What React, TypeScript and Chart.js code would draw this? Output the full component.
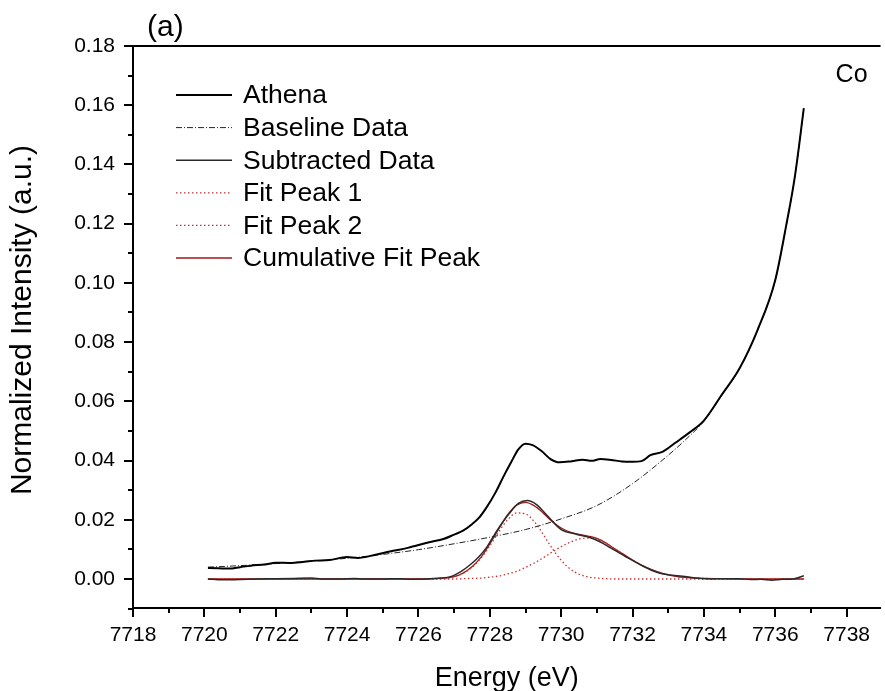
import { useEffect, useRef } from 'react';
import { Chart, registerables } from 'chart.js';

Chart.register(...registerables);

const FONT = '"Liberation Sans", Arial, Helvetica, sans-serif';

// ---------- data ----------
const athenaEnergy = [7720.1, 7720.4, 7720.7, 7721.0, 7721.3, 7721.7, 7722.0, 7722.4, 7722.8, 7723.1, 7723.5, 7724.0, 7724.3, 7724.8, 7725.2, 7725.7, 7726.3, 7726.7, 7727.0, 7727.25, 7727.5, 7727.7, 7727.9, 7728.15, 7728.4, 7728.6, 7728.8, 7729.0, 7729.2, 7729.45, 7729.7, 7729.95, 7730.3, 7730.6, 7730.85, 7731.1, 7731.4, 7731.7, 7732.0, 7732.25, 7732.5, 7732.85, 7733.2, 7733.6, 7734.0, 7734.5, 7735.0, 7735.5, 7736.0, 7736.3, 7736.55, 7736.8];
const athenaIntensity = [0.0037, 0.0036, 0.0035, 0.0040, 0.0045, 0.0049, 0.0055, 0.0054, 0.0058, 0.0062, 0.0064, 0.0074, 0.0071, 0.0082, 0.0093, 0.0105, 0.0124, 0.0135, 0.0150, 0.0163, 0.0185, 0.0207, 0.0240, 0.0290, 0.0350, 0.0395, 0.0438, 0.0457, 0.0452, 0.0432, 0.0405, 0.0394, 0.0398, 0.0403, 0.0399, 0.0405, 0.0402, 0.0397, 0.0396, 0.0398, 0.0418, 0.0430, 0.0460, 0.0495, 0.0535, 0.0622, 0.0712, 0.0840, 0.1010, 0.1190, 0.1360, 0.1590];

const baselineEnergy = [7720.1, 7721, 7722, 7723, 7724, 7725, 7726, 7727, 7728, 7729, 7730, 7731, 7732, 7733, 7733.5, 7734, 7734.5, 7735, 7735.5, 7736, 7736.3, 7736.55, 7736.8];
const baselineIntensity = [0.0040, 0.0045, 0.0052, 0.0060, 0.0070, 0.0083, 0.0099, 0.0119, 0.0141, 0.0167, 0.0203, 0.0248, 0.0322, 0.0418, 0.0472, 0.0533, 0.0620, 0.0711, 0.0839, 0.1009, 0.1189, 0.1359, 0.1589];

const subtractedEnergy = [7720.1, 7720.5, 7721.0, 7721.5, 7722.0, 7722.5, 7723.0, 7723.3, 7723.8, 7724.2, 7724.5, 7725.0, 7725.5, 7725.8, 7726.2, 7726.6, 7726.9, 7727.2, 7727.45, 7727.7, 7727.9, 7728.13, 7728.35, 7728.55, 7728.8, 7729.05, 7729.3, 7729.6, 7730.0, 7730.4, 7730.8, 7731.1, 7731.4, 7731.8, 7732.3, 7732.7, 7733.0, 7733.4, 7733.8, 7734.2, 7734.6, 7735.0, 7735.3, 7735.6, 7735.9, 7736.2, 7736.5, 7736.8];
const subtractedIntensity = [0.0000, -0.0003, -0.0002, 0.0000, 0.0001, 0.0002, 0.0003, 0.0000, 0.0000, 0.0002, 0.0000, 0.0000, 0.0001, -0.0001, 0.0000, 0.0003, 0.0008, 0.0026, 0.0048, 0.0076, 0.0105, 0.0150, 0.0190, 0.0222, 0.0255, 0.0265, 0.0252, 0.0215, 0.0167, 0.0152, 0.0140, 0.0125, 0.0104, 0.0076, 0.0043, 0.0022, 0.0014, 0.0009, 0.0003, 0.0000, 0.0001, 0.0001, -0.0002, -0.0001, -0.0004, -0.0001, 0.0000, 0.0011];

const fitEnergy = [7720.1, 7722, 7724, 7725.5, 7726, 7726.25, 7726.5, 7726.75, 7727, 7727.25, 7727.5, 7727.75, 7728, 7728.25, 7728.5, 7728.75, 7729, 7729.25, 7729.5, 7729.75, 7730, 7730.25, 7730.5, 7730.75, 7731, 7731.25, 7731.5, 7731.75, 7732, 7732.25, 7732.5, 7732.75, 7733, 7733.25, 7733.5, 7733.75, 7734, 7735, 7736.8];
const fitPeak1 = [0, 0, 0, 0, 0, 0, 0.0001, 0.0003, 0.0008, 0.0019, 0.0039, 0.0070, 0.0112, 0.0159, 0.0200, 0.0223, 0.0220, 0.0193, 0.0150, 0.0103, 0.0063, 0.0034, 0.0016, 0.0007, 0.0003, 0.0001, 0, 0, 0, 0, 0, 0, 0, 0, 0, 0, 0, 0, 0];
const fitPeak2 = [0, 0, 0, 0, 0, 0, 0, 0, 0, 0.0001, 0.0002, 0.0003, 0.0006, 0.0010, 0.0017, 0.0026, 0.0039, 0.0054, 0.0072, 0.0091, 0.0109, 0.0124, 0.0135, 0.0138, 0.0134, 0.0121, 0.0102, 0.0083, 0.0064, 0.0047, 0.0033, 0.0022, 0.0014, 0.0008, 0.0005, 0.0003, 0.0002, 0, 0];
const cumulativeFit = [0, 0, 0, 0, 0, 0, 0.0001, 0.0003, 0.0008, 0.0020, 0.0041, 0.0073, 0.0118, 0.0169, 0.0217, 0.0249, 0.0259, 0.0247, 0.0222, 0.0194, 0.0172, 0.0158, 0.0151, 0.0145, 0.0137, 0.0122, 0.0102, 0.0083, 0.0064, 0.0047, 0.0033, 0.0022, 0.0014, 0.0008, 0.0005, 0.0003, 0.0002, 0, 0];

const seriesLabels = ['Athena', 'Baseline Data', 'Subtracted Data', 'Fit Peak 1', 'Fit Peak 2', 'Cumulative Fit Peak'];

const xTickValues = [7718, 7720, 7722, 7724, 7726, 7728, 7730, 7732, 7734, 7736, 7738];
const xTickLabels = ['7718', '7720', '7722', '7724', '7726', '7728', '7730', '7732', '7734', '7736', '7738'];
const xMinorTicks = [7719, 7721, 7723, 7725, 7727, 7729, 7731, 7733, 7735, 7737];
const yTickValues = [0, 0.02, 0.04, 0.06, 0.08, 0.1, 0.12, 0.14, 0.16, 0.18];
const yTickLabels = ['0.00', '0.02', '0.04', '0.06', '0.08', '0.10', '0.12', '0.14', '0.16', '0.18'];
const yMinorTicks = [-0.01, 0.01, 0.03, 0.05, 0.07, 0.09, 0.11, 0.13, 0.15, 0.17];

const panelLabel = '(a)';
const elementLabel = 'Co';
const xTitle = 'Energy (eV)';
const yTitle = 'Normalized Intensity (a.u.)';

function pts(xs: number[], ys: number[]) {
  const n = Math.min(xs.length, ys.length);
  const out: { x: number; y: number }[] = [];
  for (let i = 0; i < n; i++) out.push({ x: xs[i], y: ys[i] });
  return out;
}

const decorPlugin = {
  id: 'decor',
  afterDraw(chart: any) {
    const { ctx, chartArea, scales } = chart;
    const x = scales.x;
    const y = scales.y;
    ctx.save();
    ctx.strokeStyle = '#000';
    ctx.lineWidth = 2;
    ctx.setLineDash([]);
    // top frame line
    ctx.beginPath();
    ctx.moveTo(chartArea.left - 1, chartArea.top);
    ctx.lineTo(chartArea.right, chartArea.top);
    ctx.stroke();
    // tick marks (major and minor, outward)
    ctx.beginPath();
    xTickValues.forEach((v) => {
      const px = Math.round(x.getPixelForValue(v));
      ctx.moveTo(px, chartArea.bottom);
      ctx.lineTo(px, chartArea.bottom + 9);
    });
    xMinorTicks.forEach((v) => {
      const px = Math.round(x.getPixelForValue(v));
      ctx.moveTo(px, chartArea.bottom);
      ctx.lineTo(px, chartArea.bottom + 5);
    });
    yTickValues.forEach((v) => {
      const py = Math.round(y.getPixelForValue(v));
      ctx.moveTo(chartArea.left, py);
      ctx.lineTo(chartArea.left - 9, py);
    });
    yMinorTicks.forEach((v) => {
      const py = Math.round(y.getPixelForValue(v));
      ctx.moveTo(chartArea.left, py);
      ctx.lineTo(chartArea.left - 5, py);
    });
    ctx.stroke();

    // y axis title
    ctx.fillStyle = '#000';
    ctx.save();
    ctx.translate(23, (chartArea.top + chartArea.bottom) / 2 - 7);
    ctx.rotate(-Math.PI / 2);
    ctx.textAlign = 'center';
    ctx.textBaseline = 'middle';
    ctx.font = `30px ${FONT}`;
    ctx.fillText(yTitle, 0, 0);
    ctx.restore();

    // annotations
    ctx.textBaseline = 'middle';
    ctx.font = `30px ${FONT}`;
    ctx.textAlign = 'left';
    ctx.fillText(panelLabel, chartArea.left + 14, chartArea.top - 18);
    ctx.font = `25px ${FONT}`;
    ctx.textAlign = 'right';
    ctx.fillText(elementLabel, chartArea.right - 13, chartArea.top + 29);

    // legend
    ctx.textAlign = 'left';
    ctx.font = `26.5px ${FONT}`;
    chart.data.datasets.forEach((ds: any, i: number) => {
      const ly = chartArea.top + 49 + i * 32.6;
      ctx.save();
      ctx.strokeStyle = ds.borderColor;
      ctx.lineWidth = ds.borderWidth;
      ctx.setLineDash(ds.borderDash || []);
      ctx.beginPath();
      ctx.moveTo(chartArea.left + 43, ly);
      ctx.lineTo(chartArea.left + 99, ly);
      ctx.stroke();
      ctx.restore();
      ctx.fillStyle = '#000';
      ctx.fillText(ds.label, chartArea.left + 110, ly + 1);
    });
    ctx.restore();
  },
};

export default function App() {
  const ref = useRef<HTMLCanvasElement | null>(null);
  useEffect(() => {
    if (!ref.current) return;
    const chart = new Chart(ref.current, {
      type: 'line',
      data: {
        datasets: [
          { label: seriesLabels[0], data: pts(athenaEnergy, athenaIntensity), borderColor: '#000000', borderWidth: 2, pointRadius: 0, cubicInterpolationMode: 'monotone' },
          { label: seriesLabels[1], data: pts(baselineEnergy, baselineIntensity), borderColor: '#222222', borderWidth: 1, borderDash: [6, 2, 1, 2], pointRadius: 0, cubicInterpolationMode: 'monotone' },
          { label: seriesLabels[2], data: pts(subtractedEnergy, subtractedIntensity), borderColor: '#2a2a2a', borderWidth: 1.5, pointRadius: 0, cubicInterpolationMode: 'monotone' },
          { label: seriesLabels[3], data: pts(fitEnergy, fitPeak1), borderColor: '#c83232', borderWidth: 1.3, borderDash: [1.5, 2.5], pointRadius: 0, cubicInterpolationMode: 'monotone' },
          { label: seriesLabels[4], data: pts(fitEnergy, fitPeak2), borderColor: '#c83232', borderWidth: 1.3, borderDash: [1.5, 2.5], pointRadius: 0, cubicInterpolationMode: 'monotone' },
          { label: seriesLabels[5], data: pts(fitEnergy, cumulativeFit), borderColor: '#a01818', borderWidth: 1.3, pointRadius: 0, cubicInterpolationMode: 'monotone' },
        ] as any,
      },
      options: {
        animation: false,
        responsive: false,
        devicePixelRatio: 1,
        layout: { padding: { left: 0, top: 46, right: 0, bottom: 0 } },
        plugins: { legend: { display: false }, tooltip: { enabled: false } },
        scales: {
          x: {
            type: 'linear',
            min: 7718,
            max: 7738.95,
            afterFit: (s: any) => { s.height = 83; },
            afterBuildTicks: (s: any) => { s.ticks = xTickValues.map((v) => ({ value: v })); },
            grid: { display: false, drawTicks: false },
            border: { display: true, color: '#000', width: 2 },
            ticks: {
              color: '#000',
              font: { family: FONT, size: 21 },
              padding: 15,
              maxRotation: 0,
              autoSkip: false,
              callback: (v: any) => { const i = xTickValues.indexOf(Number(v)); return i >= 0 ? xTickLabels[i] : ''; },
            },
            title: { display: true, text: xTitle, color: '#000', font: { family: FONT, size: 27, lineHeight: 1 }, padding: { top: 0, bottom: -1 } },
          },
          y: {
            type: 'linear',
            min: -0.0098,
            max: 0.18,
            afterFit: (s: any) => { s.width = 133; },
            afterBuildTicks: (s: any) => { s.ticks = yTickValues.map((v) => ({ value: v })); },
            grid: { display: false, drawTicks: false },
            border: { display: true, color: '#000', width: 2 },
            ticks: {
              color: '#000',
              font: { family: FONT, size: 21 },
              padding: 18,
              autoSkip: false,
              callback: (v: any) => { const i = yTickValues.findIndex((t) => Math.abs(t - Number(v)) < 1e-9); return i >= 0 ? yTickLabels[i] : ''; },
            },
            title: { display: false, text: yTitle },
          },
        },
      } as any,
      plugins: [decorPlugin],
    });
    return () => chart.destroy();
  }, []);
  return (
    <div style={{ position: 'fixed', left: 0, top: 0, width: 885, height: 691, background: '#fff' }}>
      <canvas ref={ref} width={885} height={691} style={{ display: 'block' }} />
    </div>
  );
}
